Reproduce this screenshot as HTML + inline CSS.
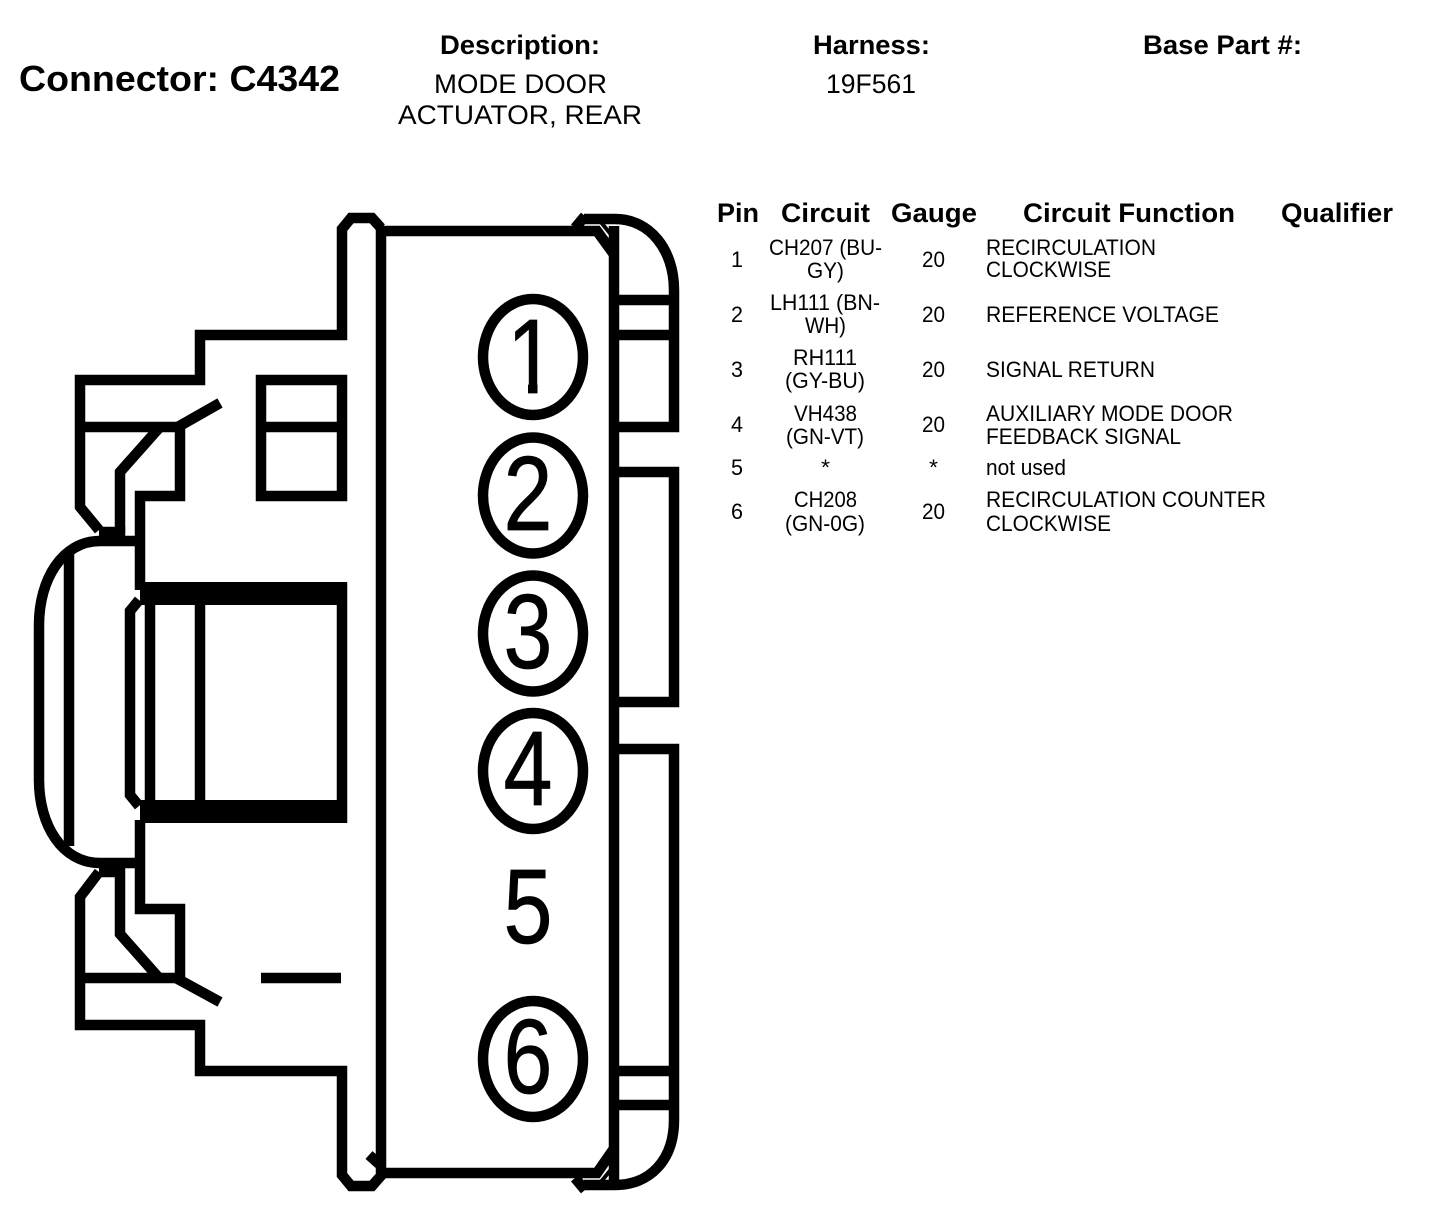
<!DOCTYPE html>
<html><head><meta charset="utf-8"><style>
html,body{margin:0;padding:0;background:#fff;width:1440px;height:1212px;overflow:hidden}
svg{display:block}
text{font-family:"Liberation Sans",sans-serif;fill:#000}
.b{font-weight:bold}
.h{font-size:27px;font-weight:bold}
.d{font-size:27px}
.t{font-size:22px}
.n{font-size:106px;stroke:#000;stroke-width:.8px}
</style></head><body>
<svg width="1440" height="1212" viewBox="0 0 1440 1212" xmlns="http://www.w3.org/2000/svg">
<rect width="1440" height="1212" fill="#fff"/>
<g fill="none" stroke="#000" stroke-width="10.5" stroke-linejoin="miter" stroke-linecap="butt">
<!-- upper left outline -->
<path d="M381 228 L372 218 H351 L342 229 V335 H200 V380 H80 V507 L99 530"/>
<path d="M80 427 H180 V496 H140 V590"/>
<path d="M176 428 L220 403"/>
<path d="M159 428 L120 472 V532"/>
<path d="M99 532 H120 V541"/>
<!-- window -->
<path d="M261 380 H342 V496 H261 Z M261 427 H342"/>
<!-- bulge -->
<path d="M140 541 H100 C62 541 39 580 39 625 V780 C39 825 62 863 100 863 H140"/>
<path d="M69 553 V846"/>
<path d="M139 600 L130 611 V795 L139 806"/>
<path d="M150 600 V805 M200 600 V805 M342 582 V823"/>
<!-- lower left outline -->
<path d="M140 820 V909 H180 V978 M80 978 H180"/>
<path d="M176 978 L220 1002"/>
<path d="M159 978 L120 934 V863"/>
<path d="M99 872 H120"/>
<path d="M99 872 L80 897 V1025 H200 V1071 H342 V1175 L351 1186 H372 L386 1170"/>
<path d="M261 978 H341"/>
<path d="M369 1155 L379 1164"/>
<!-- main body -->
<path d="M381 228 V1173"/>
<path d="M381 231 H597 L613 253"/>
<path d="M381 1173 H597 L613 1150"/>
<path d="M614 226 V1190"/>
<!-- right side -->
<path d="M584 219 H615 C650 219 674 250 674 290 V427 H614"/>
<path d="M614 300 H674 M614 335 H674"/>
<path d="M614 472 H674 V702 H614"/>
<path d="M614 749 H674 V1120 C674 1160 650 1185 615 1185 H584"/>
<path d="M614 1071 H674 M614 1105 H674"/>
<path d="M575 228 L585 216 M575 1178 L585 1190"/>
<path d="M600 221 L613 237 M600 1183 L613 1167" stroke-width="4"/>
<!-- circles -->
<ellipse cx="533" cy="357" rx="50" ry="58"/>
<ellipse cx="533" cy="495.5" rx="50" ry="58"/>
<ellipse cx="533" cy="633.5" rx="50" ry="58"/>
<ellipse cx="533" cy="771" rx="50" ry="58"/>
<ellipse cx="533" cy="1059" rx="50" ry="58"/>
</g>
<rect x="140" y="582" width="207" height="23" fill="#000"/>
<rect x="140" y="800" width="207" height="23" fill="#000"/>

<g text-anchor="middle">
<text class="n" transform="translate(531.5 393) scale(.83 1)">1</text>
<text class="n" transform="translate(528 530) scale(.83 1)">2</text>
<text class="n" transform="translate(528 668) scale(.83 1)">3</text>
<text class="n" transform="translate(528 805) scale(.83 1)">4</text>
<text class="n" transform="translate(528 943) scale(.83 1)">5</text>
<text class="n" transform="translate(528 1093) scale(.83 1)">6</text>
</g>
<!-- hide the serif foot of the 1 -->
<rect x="508" y="383" width="20" height="13" fill="#fff"/>
<rect x="537.5" y="383" width="22" height="13" fill="#fff"/>

<!-- header -->
<text class="b" font-size="36" x="19" y="91" textLength="321" lengthAdjust="spacingAndGlyphs">Connector: C4342</text>
<text class="h" x="440" y="54" textLength="160" lengthAdjust="spacingAndGlyphs">Description:</text>
<text class="h" x="813" y="54" textLength="117" lengthAdjust="spacingAndGlyphs">Harness:</text>
<text class="h" x="1143" y="54" textLength="159" lengthAdjust="spacingAndGlyphs">Base Part #:</text>
<text class="d" x="434" y="93" textLength="173" lengthAdjust="spacingAndGlyphs">MODE DOOR</text>
<text class="d" x="398" y="124" textLength="244" lengthAdjust="spacingAndGlyphs">ACTUATOR, REAR</text>
<text class="d" x="826" y="93" textLength="90" lengthAdjust="spacingAndGlyphs">19F561</text>

<!-- table header -->
<text class="h" x="717" y="222" textLength="42" lengthAdjust="spacingAndGlyphs">Pin</text>
<text class="h" x="781" y="222" textLength="89" lengthAdjust="spacingAndGlyphs">Circuit</text>
<text class="h" x="891" y="222" textLength="86" lengthAdjust="spacingAndGlyphs">Gauge</text>
<text class="h" x="1023" y="222" textLength="212" lengthAdjust="spacingAndGlyphs">Circuit Function</text>
<text class="h" x="1281" y="222" textLength="112" lengthAdjust="spacingAndGlyphs">Qualifier</text>

<!-- pins -->
<g class="t">
<text class="t" x="731" y="267" textLength="12" lengthAdjust="spacingAndGlyphs">1</text>
<text class="t" x="731" y="322" textLength="12" lengthAdjust="spacingAndGlyphs">2</text>
<text class="t" x="731" y="377" textLength="12" lengthAdjust="spacingAndGlyphs">3</text>
<text class="t" x="731" y="432" textLength="12" lengthAdjust="spacingAndGlyphs">4</text>
<text class="t" x="731" y="475" textLength="12" lengthAdjust="spacingAndGlyphs">5</text>
<text class="t" x="731" y="519" textLength="12" lengthAdjust="spacingAndGlyphs">6</text>

<text class="t" x="769" y="255" textLength="113" lengthAdjust="spacingAndGlyphs">CH207 (BU-</text>
<text class="t" x="807" y="278" textLength="37" lengthAdjust="spacingAndGlyphs">GY)</text>
<text class="t" x="770" y="310" textLength="110" lengthAdjust="spacingAndGlyphs">LH111 (BN-</text>
<text class="t" x="805" y="333" textLength="41" lengthAdjust="spacingAndGlyphs">WH)</text>
<text class="t" x="793" y="365" textLength="64" lengthAdjust="spacingAndGlyphs">RH111</text>
<text class="t" x="785" y="388" textLength="80" lengthAdjust="spacingAndGlyphs">(GY-BU)</text>
<text class="t" x="794" y="421" textLength="63" lengthAdjust="spacingAndGlyphs">VH438</text>
<text class="t" x="786" y="444" textLength="78" lengthAdjust="spacingAndGlyphs">(GN-VT)</text>
<text class="t" x="821" y="475" textLength="9" lengthAdjust="spacingAndGlyphs">*</text>
<text class="t" x="794" y="507" textLength="63" lengthAdjust="spacingAndGlyphs">CH208</text>
<text class="t" x="785" y="531" textLength="80" lengthAdjust="spacingAndGlyphs">(GN-0G)</text>

<text class="t" x="922" y="267" textLength="23" lengthAdjust="spacingAndGlyphs">20</text>
<text class="t" x="922" y="322" textLength="23" lengthAdjust="spacingAndGlyphs">20</text>
<text class="t" x="922" y="377" textLength="23" lengthAdjust="spacingAndGlyphs">20</text>
<text class="t" x="922" y="432" textLength="23" lengthAdjust="spacingAndGlyphs">20</text>
<text class="t" x="929" y="475" textLength="9" lengthAdjust="spacingAndGlyphs">*</text>
<text class="t" x="922" y="519" textLength="23" lengthAdjust="spacingAndGlyphs">20</text>

<text class="t" x="986" y="255" textLength="170" lengthAdjust="spacingAndGlyphs">RECIRCULATION</text>
<text class="t" x="986" y="277" textLength="125" lengthAdjust="spacingAndGlyphs">CLOCKWISE</text>
<text class="t" x="986" y="322" textLength="233" lengthAdjust="spacingAndGlyphs">REFERENCE VOLTAGE</text>
<text class="t" x="986" y="377" textLength="169" lengthAdjust="spacingAndGlyphs">SIGNAL RETURN</text>
<text class="t" x="986" y="421" textLength="247" lengthAdjust="spacingAndGlyphs">AUXILIARY MODE DOOR</text>
<text class="t" x="986" y="444" textLength="195" lengthAdjust="spacingAndGlyphs">FEEDBACK SIGNAL</text>
<text class="t" x="986" y="475" textLength="80" lengthAdjust="spacingAndGlyphs">not used</text>
<text class="t" x="986" y="507" textLength="280" lengthAdjust="spacingAndGlyphs">RECIRCULATION COUNTER</text>
<text class="t" x="986" y="531" textLength="125" lengthAdjust="spacingAndGlyphs">CLOCKWISE</text>
</g>
</svg>
</body></html>
